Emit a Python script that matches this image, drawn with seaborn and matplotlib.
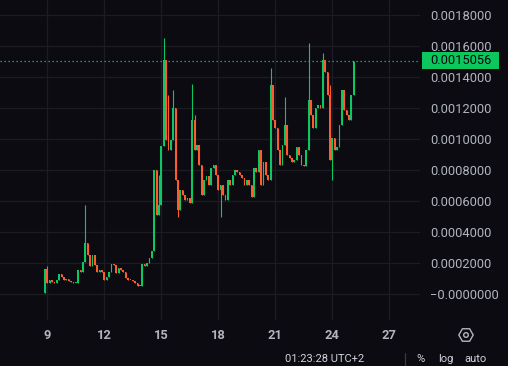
import numpy as np
import pandas as pd
import matplotlib
matplotlib.use("Agg")
import matplotlib.pyplot as plt
import matplotlib.dates as mdates
import matplotlib.patches as mpatches
import matplotlib.transforms as mtransforms
import seaborn as sns

# ---------------- data ----------------
start_time = "2024-01-08 21:00"
candle_freq = "3h"
first_open = 0.0000070
close = [
    0.0001610, 0.0000710, 0.0000900, 0.0000770, 0.0000710, 0.0000900, 0.0001290, 0.0001100,
    0.0000900, 0.0000970, 0.0000840, 0.0000770, 0.0000710, 0.0000710, 0.0001550, 0.0001420,
    0.0002060, 0.0003290, 0.0002520, 0.0001810, 0.0002520, 0.0001870, 0.0001420, 0.0001550,
    0.0001420, 0.0000900, 0.0001100, 0.0001420, 0.0001940, 0.0001870, 0.0001350, 0.0001680,
    0.0001550, 0.0001420, 0.0001030, 0.0000900, 0.0000900, 0.0000840, 0.0000710, 0.0000520,
    0.0000520, 0.0001940, 0.0001810, 0.0002000, 0.0002320, 0.0002770, 0.0008000, 0.0005100,
    0.0005740, 0.0009550, 0.0015100, 0.0009940, 0.0009290, 0.0009940, 0.0012000, 0.0007360,
    0.0005420, 0.0006710, 0.0006390, 0.0006070, 0.0006200, 0.0005870, 0.0011230, 0.0009290,
    0.0009610, 0.0008320, 0.0006390, 0.0007360, 0.0007600, 0.0007030, 0.0008130, 0.0008320,
    0.0007680, 0.0006710, 0.0007030, 0.0006390, 0.0006070, 0.0007360, 0.0007030, 0.0007680,
    0.0008000, 0.0007870, 0.0007680, 0.0007480, 0.0007030, 0.0007360, 0.0007030, 0.0006260,
    0.0008130, 0.0007870, 0.0009290, 0.0007030, 0.0008520, 0.0007680, 0.0007360, 0.0013480,
    0.0011230, 0.0010710, 0.0009290, 0.0008320, 0.0009610, 0.0010900, 0.0008970, 0.0008770,
    0.0008520, 0.0008650, 0.0009480, 0.0008970, 0.0008320, 0.0008260, 0.0009290, 0.0012520,
    0.0011550, 0.0010710, 0.0012000, 0.0012190, 0.0012000, 0.0015100, 0.0014320, 0.0012840,
    0.0008640, 0.0010060, 0.0009290, 0.0009480, 0.0010900, 0.0013160, 0.0011870, 0.0011550,
    0.0011230, 0.0012840, 0.0015056,
]
wick_high = {1: 0.0001810, 17: 0.0005740, 48: 0.0007680, 50: 0.0016520, 52: 0.0012840,
             54: 0.0013160, 62: 0.0013550, 63: 0.0011550, 95: 0.0014580, 101: 0.0012710,
             111: 0.0016190, 117: 0.0015550, 120: 0.0013480}
wick_low = {56: 0.0004970, 74: 0.0004970, 121: 0.0007360}

y_ticks = [0.0, 0.0002, 0.0004, 0.0006, 0.0008, 0.0010, 0.0012, 0.0014, 0.0016, 0.0018]
y_tick_labels = ["\u22120.0000000", "0.0002000", "0.0004000", "0.0006000", "0.0008000",
                 "0.0010000", "0.0012000", "0.0014000", "0.0016000", "0.0018000"]
x_tick_days = [9, 12, 15, 18, 21, 24, 27]
last_price_label = "0.0015056"
status_time = "01:23:28 UTC+2"
status_items = ["%", "log", "auto"]

# ---------------- style ----------------
BG = "#0b0b11"
GRID = "#1c1c23"
TXT = "#b2b5be"
UP = "#0dc765"
DOWN = "#ff5b2e"
TAG = "#0dc75e"

sns.set_theme(style="dark", rc={"axes.facecolor": BG, "figure.facecolor": BG,
                                "grid.color": GRID, "axes.edgecolor": BG})
plt.rcParams["font.family"] = ["Roboto", "DejaVu Sans"]

W, H = 508, 366
fig = plt.figure(figsize=(W / 100, H / 100), dpi=100)
ax = fig.add_axes([0, 1 - 320 / H, 420 / W, 320 / H])
ax.set_facecolor(BG)

times = pd.date_range(start_time, periods=len(close), freq=candle_freq)
df = pd.DataFrame({"time": times, "close": close})
df["open"] = [first_open] + close[:-1]
df["x"] = mdates.date2num(df["time"])
df["high"] = [max(o, c, wick_high.get(i, 0.0)) for i, (o, c) in enumerate(zip(df["open"], df["close"]))]
df["low"] = [min(o, c, wick_low.get(i, 1.0)) for i, (o, c) in enumerate(zip(df["open"], df["close"]))]
df["up"] = df["close"] >= df["open"]
colors = [UP if u else DOWN for u in df["up"]]

ax.vlines(df["x"], df["low"], df["high"], colors=colors, linewidth=0.8, zorder=3)
body_lo = np.minimum(df["open"], df["close"])
body_h = np.maximum(np.abs(df["close"] - df["open"]), 0.0000065)
ax.bar(df["x"], body_h, bottom=body_lo, width=0.085, color=colors, linewidth=0, zorder=4)

# axes ranges
day9 = mdates.date2num(pd.Timestamp("2024-01-09"))
ax.set_xlim(day9 - 47.3 / 19, day9 + (420 - 47.3) / 19)
px = 0.0002 / 31
ax.set_ylim(-(320 - 294) * px, 294 * px)

ax.set_xticks([mdates.date2num(pd.Timestamp(2024, 1, d)) for d in x_tick_days])
ax.set_xticklabels([str(d) for d in x_tick_days])
ax.yaxis.tick_right()
ax.set_yticks(y_ticks)
ax.set_yticklabels(y_tick_labels)
ax.tick_params(axis="y", length=0, pad=7.3, labelsize=9.3, labelcolor=TXT)
ax.tick_params(axis="x", length=0, pad=6.5, labelsize=9.3, labelcolor=TXT)
for lab in ax.get_xticklabels():
    lab.set_fontweight("bold")
ax.grid(True, color=GRID, linewidth=0.9)
for s in ax.spines.values():
    s.set_visible(False)

# last price line and tag
last = close[-1]
ax.axhline(last, color="#22c08c", linestyle=(0, (1, 2.2)), linewidth=0.9, zorder=2)
blend = mtransforms.blended_transform_factory(ax.transAxes, ax.transData)
tag = mpatches.FancyBboxPatch((422 / 420, last - 8.3 * px), (499 - 422) / 420, 16.6 * px,
                              boxstyle="square,pad=0", transform=blend, facecolor=TAG,
                              edgecolor="none", clip_on=False, zorder=6)
ax.add_patch(tag)
ax.text(430 / 420, last, last_price_label, transform=blend, va="center", ha="left",
        color="#07070b", fontsize=9.3, clip_on=False, zorder=7)

# settings icon
ident = mtransforms.IdentityTransform()
hexagon = mpatches.RegularPolygon((466, H - 335), numVertices=6, radius=7.2,
                                  orientation=np.pi / 2, transform=ident,
                                  facecolor="none", edgecolor=TXT, linewidth=1.0)
fig.add_artist(hexagon)
fig.add_artist(mpatches.Circle((466, H - 335), 2.3, transform=ident,
                               facecolor="none", edgecolor=TXT, linewidth=1.0))

# status bar
fig.text(285 / W, 1 - 354 / H, status_time, color="#d1d4dc", fontsize=8, va="top", ha="left")
fig.add_artist(plt.Line2D([404.5 / W, 404.5 / W], [0, 1 - 353 / H], transform=fig.transFigure,
                          color="#3a3a44", linewidth=0.9))
for xpos, s in zip([416, 438, 464], status_items):
    fig.text(xpos / W, 1 - 354 / H, s, color="#d1d4dc", fontsize=8, va="top", ha="left")

fig.savefig("out.png", dpi=100, facecolor=BG)
